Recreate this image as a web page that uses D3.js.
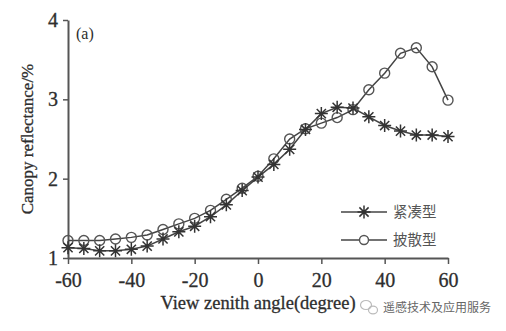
<!DOCTYPE html>
<html>
<head>
<meta charset="utf-8">
<script src="https://cdn.jsdelivr.net/npm/d3@7"></script>
<style>
  html, body { margin: 0; padding: 0; background: #fff; }
  svg { display: block; }
</style>
</head>
<body>
<svg id="chart" width="506" height="331"></svg>
<script>
// View zenith angles (degrees) and canopy reflectance (%) for the two canopy types
const angles = [-60, -55, -50, -45, -40, -35, -30, -25, -20, -15, -10, -5, 0, 5, 10, 15, 20, 25, 30, 35, 40, 45, 50, 55, 60];
const compactValues = [1.13, 1.12, 1.09, 1.09, 1.11, 1.15, 1.24, 1.33, 1.40, 1.52, 1.67, 1.85, 2.02, 2.18, 2.37, 2.62, 2.82, 2.90, 2.89, 2.78, 2.67, 2.60, 2.55, 2.55, 2.53];
const spreadValues  = [1.22, 1.22, 1.22, 1.24, 1.26, 1.29, 1.36, 1.43, 1.50, 1.60, 1.74, 1.88, 2.03, 2.25, 2.50, 2.63, 2.70, 2.77, 2.87, 3.12, 3.33, 3.58, 3.65, 3.41, 2.99];
const seriesNames = ["紧凑型", "披散型"];
const xTicks = [-60, -40, -20, 0, 20, 40, 60];
const yTicks = [1, 2, 3, 4];

const svg = d3.select("#chart");
const serif = "'Liberation Serif', 'DejaVu Serif', serif";
const ink = "#2e2e2e";

const x = d3.scaleLinear().domain([-60, 60]).range([68, 448]);
const y = d3.scaleLinear().domain([1, 4]).range([258, 20]);

// Axes (plain hyphen for negative labels)
const xAxis = svg.append("g")
  .attr("transform", `translate(0,${y(1)})`)
  .call(d3.axisBottom(x).tickValues(xTicks).tickFormat(d => String(d))
    .tickSize(6).tickSizeOuter(0).tickPadding(9));
const yAxis = svg.append("g")
  .attr("transform", `translate(${x(-60)},0)`)
  .call(d3.axisLeft(y).tickValues(yTicks).tickFormat(d => String(d))
    .tickSize(5).tickSizeOuter(0).tickPadding(5));

[xAxis, yAxis].forEach(g => {
  g.select(".domain").attr("stroke", "#555").attr("stroke-width", 2);
  g.selectAll(".tick line").attr("stroke", "#555").attr("stroke-width", 1.5);
  g.selectAll(".tick text")
    .attr("fill", ink)
    .attr("stroke", ink).attr("stroke-width", 0.3)
    .style("font-family", serif)
    .style("font-size", "20px");
});

// Axis titles
svg.append("text")
  .attr("x", x(0)).attr("y", 309)
  .attr("text-anchor", "middle")
  .attr("fill", ink).attr("stroke", ink).attr("stroke-width", 0.3)
  .style("font-family", serif).style("font-size", "18.5px")
  .text("View zenith angle(degree)");

svg.append("text")
  .attr("transform", "translate(33,139) rotate(-90)")
  .attr("text-anchor", "middle")
  .attr("fill", ink).attr("stroke", ink).attr("stroke-width", 0.3)
  .style("font-family", serif).style("font-size", "17px")
  .text("Canopy reflectance/%");

// Panel label
svg.append("text")
  .attr("x", 76).attr("y", 39)
  .attr("fill", ink)
  .style("font-family", serif).style("font-size", "16px")
  .text("(a)");

const lineColor = "#444";
const line = d3.line().x(d => x(d[0])).y(d => y(d[1]));

const compact = angles.map((a, i) => [a, compactValues[i]]);
const spread = angles.map((a, i) => [a, spreadValues[i]]);

// Asterisk marker path
function starPath(r) {
  let p = "";
  for (let k = 0; k < 4; k++) {
    const t = k * Math.PI / 4;
    const dx = r * Math.cos(t), dy = r * Math.sin(t);
    p += `M${-dx},${-dy}L${dx},${dy}`;
  }
  return p;
}

// Spread-type series (circles)
svg.append("path").datum(spread)
  .attr("d", line).attr("fill", "none")
  .attr("stroke", lineColor).attr("stroke-width", 1.5);
svg.append("g").selectAll("circle").data(spread).join("circle")
  .attr("cx", d => x(d[0])).attr("cy", d => y(d[1])).attr("r", 5)
  .attr("fill", "none").attr("stroke", "#555").attr("stroke-width", 1.4);

// Compact-type series (asterisks)
svg.append("path").datum(compact)
  .attr("d", line).attr("fill", "none")
  .attr("stroke", lineColor).attr("stroke-width", 1.5);
svg.append("g").selectAll("path").data(compact).join("path")
  .attr("transform", d => `translate(${x(d[0])},${y(d[1])})`)
  .attr("d", starPath(6.5))
  .attr("stroke", "#333").attr("stroke-width", 1.5).attr("fill", "none");

// Legend
const legend = svg.append("g");
const legendRows = [
  { name: seriesNames[0], type: "star", yPos: 212 },
  { name: seriesNames[1], type: "circle", yPos: 240 }
];
legendRows.forEach(r => {
  legend.append("line")
    .attr("x1", 341).attr("x2", 387).attr("y1", r.yPos).attr("y2", r.yPos)
    .attr("stroke", lineColor).attr("stroke-width", 1.5);
  if (r.type === "star") {
    legend.append("path")
      .attr("transform", `translate(364,${r.yPos})`)
      .attr("d", starPath(6.5))
      .attr("stroke", "#333").attr("stroke-width", 1.5);
  } else {
    legend.append("circle")
      .attr("cx", 364).attr("cy", r.yPos).attr("r", 4.5)
      .attr("fill", "#fff").attr("stroke", "#555").attr("stroke-width", 1.4);
  }
  legend.append("text")
    .attr("x", 393).attr("y", r.yPos + 5)
    .attr("fill", "#555")
    .style("font-family", "'Noto Sans CJK SC', sans-serif").style("font-size", "14.5px")
    .text(r.name);
});

// Account mark
const mark = svg.append("g").attr("transform", "translate(366,307)");
mark.append("ellipse").attr("cx", 0).attr("cy", -2).attr("rx", 5.5).attr("ry", 4.5)
  .attr("fill", "none").attr("stroke", "#bbb").attr("stroke-width", 1.2);
mark.append("ellipse").attr("cx", 7).attr("cy", 3).attr("rx", 4.5).attr("ry", 3.8)
  .attr("fill", "none").attr("stroke", "#bbb").attr("stroke-width", 1.2);
svg.append("text")
  .attr("x", 383).attr("y", 312)
  .attr("fill", "#666")
  .style("font-family", "'Noto Sans CJK SC', sans-serif").style("font-size", "12px")
  .text("遥感技术及应用服务");
</script>
</body>
</html>
